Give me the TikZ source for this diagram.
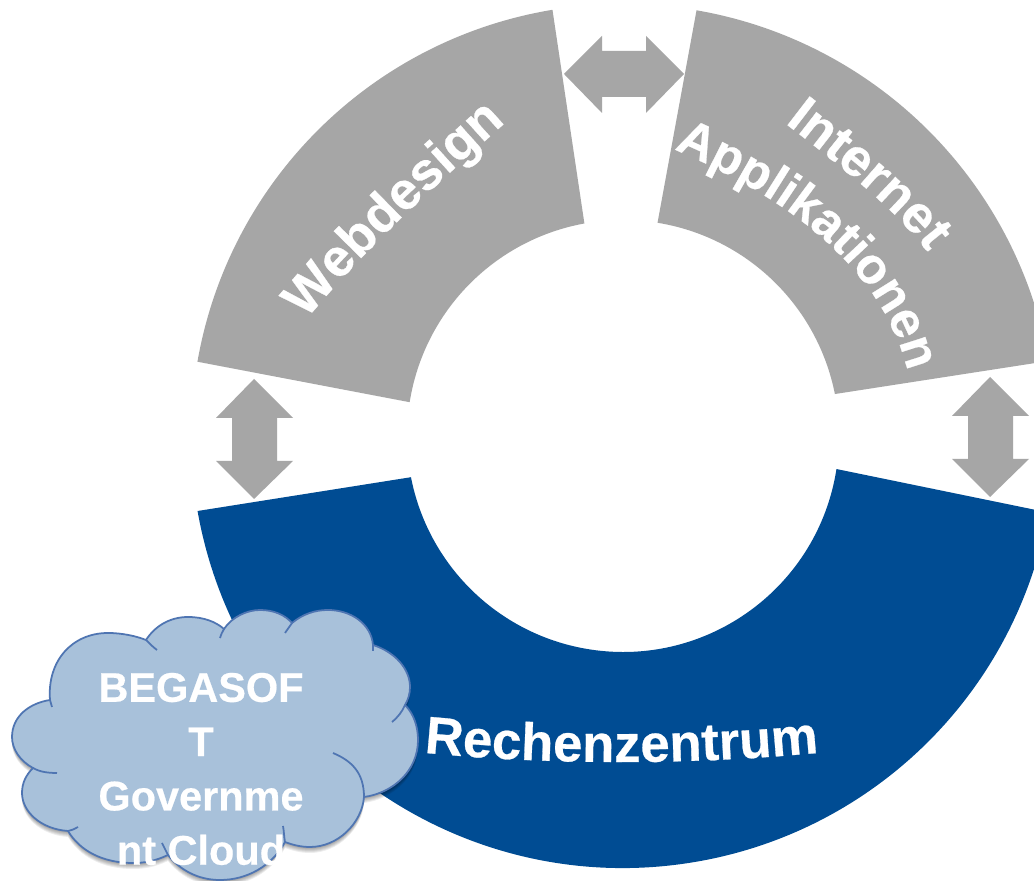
\documentclass[tikz,border=0pt]{standalone}
\usepackage{fontspec}
\setmainfont{Liberation Sans}[BoldFeatures={FakeBold=0.5}]
\usetikzlibrary{decorations.text}

\definecolor{bandgray}{HTML}{A6A6A6}
\definecolor{bandblue}{HTML}{004C93}
\definecolor{cloudfill}{HTML}{A8C1DA}
\definecolor{cloudline}{HTML}{4F75B2}

\newcommand{\bandfont}{\fontsize{30}{30}\selectfont\bfseries\color{white}}
\newcommand{\narrowfont}{\fontsize{28.8}{30}\selectfont\bfseries\color{white}}
\newcommand{\cloudoutline}{(50,181)
    .. controls (47,220) and (72,248) .. (108,248)
    .. controls (122,248) and (136,245) .. (146,241)
    .. controls (155,255) and (170,264) .. (188,264)
    .. controls (204,264) and (216,259) .. (224,252)
    .. controls (232,264) and (247,271) .. (260,271)
    .. controls (274,271) and (285,266) .. (292,258)
    .. controls (303,267) and (315,271) .. (328,271)
    .. controls (350,271) and (371,258) .. (373,236)
    .. controls (395,229) and (410,212) .. (410,194)
    .. controls (410,187) and (408,181) .. (405,176)
    .. controls (414,167) and (418,154) .. (418,141)
    .. controls (418,110) and (393,88) .. (364,84)
    .. controls (362,58) and (338,34) .. (310,34)
    .. controls (301,34) and (293,36) .. (285,39)
    .. controls (272,15) and (247,1) .. (220,1)
    .. controls (198,1) and (180,11) .. (168,26)
    .. controls (155,20) and (145,18) .. (133,18)
    .. controls (103,18) and (80,30) .. (68,50)
    .. controls (40,52) and (22,70) .. (22,88)
    .. controls (22,98) and (26,106) .. (33,113)
    .. controls (20,120) and (12,132) .. (12,144)
    .. controls (12,165) and (30,178) .. (50,181) -- cycle}

\begin{document}
\begin{tikzpicture}[x=0.02cm, y=0.02cm,
    wordpath/.style={decorate, decoration={text along path, text align=center, text={|\bandfont|#1}}},
    narrowpath/.style={decorate, decoration={text along path, text align=center, text={|\narrowfont|#1}}},
    cloudstroke/.style={draw=cloudline, line width=1pt}]

    % Bildausschnitt
    \path[use as bounding box, clip] (0,0) rectangle (1034,881);
    \fill[white] (0,0) rectangle (1034,881);

    % Ringsegmente
    \begin{scope}[shift={(623,445)}]
        \fill[bandgray] (99.4:432) arc[start angle=99.4, end angle=170.1, radius=432]
            -- (171:216) arc[start angle=171, end angle=100.3, radius=216] -- cycle;
        \fill[bandgray] (80.2:432) arc[start angle=80.2, end angle=10, radius=432]
            -- (11.2:216) arc[start angle=11.2, end angle=80.8, radius=216] -- cycle;
        \fill[bandblue] (190:432) arc[start angle=190, end angle=349.8, radius=432]
            -- (351.2:216) arc[start angle=351.2, end angle=191, radius=216] -- cycle;
    \end{scope}

    % Doppelpfeile
    \fill[bandgray] (564,807) -- (602,845) -- (602,830) -- (646,830) -- (646,845) -- (684,807)
        -- (646,768) -- (646,784) -- (602,784) -- (602,768) -- cycle;
    \fill[bandgray] (254,502) -- (293,463) -- (277,463) -- (277,420) -- (293,420) -- (254,382)
        -- (216,420) -- (232,420) -- (232,463) -- (216,463) -- cycle;
    \fill[bandgray] (990,504) -- (1029,465) -- (1013,465) -- (1013,422) -- (1029,422) -- (990,384)
        -- (952,422) -- (968,422) -- (968,465) -- (952,465) -- cycle;

    % Beschriftung der Segmente
    \path[wordpath=Webdesign] (306,561) .. controls (371,640) and (441,700) .. (506,759);
    \path[wordpath=Internet] (786,757) .. controls (829,724) and (894,674) .. (927,630);
    \path[narrowpath=Applikationen] (680,729) .. controls (765,692) and (875,628) .. (906,516);
    \path[wordpath=Rechenzentrum] (427,128) .. controls (550,116) and (690,116) .. (816,128);

    % Wolke mit Schatten
    \foreach \sh in {1,...,6}
        \fill[black, opacity=0.07, shift={(0,-\sh)}] \cloudoutline;
    \fill[cloudfill] \cloudoutline;
    \draw[cloudstroke] \cloudoutline;

    % Innere Bogenenden der Wolke
    \draw[cloudstroke] (146,241) .. controls (150,237) and (153,234) .. (157,231);
    \draw[cloudstroke] (50,181) -- (52,174);
    \draw[cloudstroke] (224,252) .. controls (222,249) and (221,246) .. (220,243);
    \draw[cloudstroke] (292,258) .. controls (290,255) and (287,251) .. (285,248);
    \draw[cloudstroke] (373,236) -- (373,230);
    \draw[cloudstroke] (405,176) .. controls (402,169) and (398,164) .. (392,159);
    \draw[cloudstroke] (364,84) .. controls (364,108) and (352,120) .. (333,128);
    \draw[cloudstroke] (285,39) .. controls (284,44) and (284,50) .. (283,55);
    \draw[cloudstroke] (168,26) .. controls (166,30) and (164,34) .. (162,38);
    \draw[cloudstroke] (68,50) .. controls (72,51) and (75,52) .. (78,54);
    \draw[cloudstroke] (33,113) .. controls (40,109) and (48,108) .. (57,108);

    % Text in der Wolke
    \node[align=center, text=white, font={\fontsize{23.6}{30.9}\selectfont\bfseries}] (cloudlabel) at (201,112)
        {BEGASOF\\T\\Governme\\nt Cloud};

\end{tikzpicture}
\end{document}
